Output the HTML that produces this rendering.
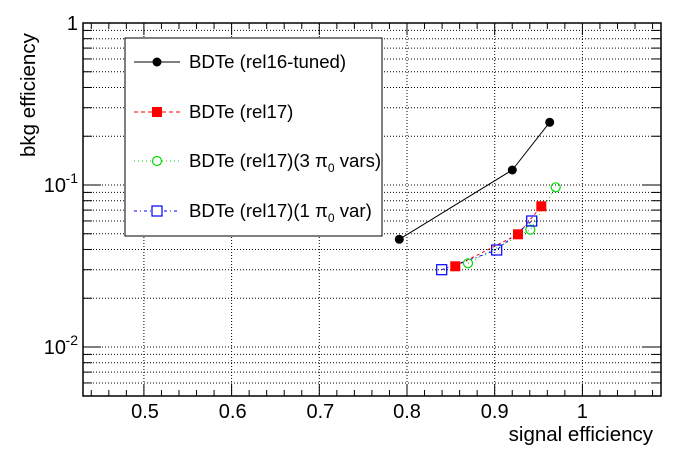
<!DOCTYPE html>
<html><head><meta charset="utf-8"><style>
html,body{margin:0;padding:0;background:#fff;}
svg{display:block;font-family:"Liberation Sans",Arial,sans-serif;}
</style></head><body>
<svg id="s" width="696" height="472" viewBox="0 0 696 472" xmlns="http://www.w3.org/2000/svg">
<g id="grid"></g>
<g id="ticks"></g>
<rect x="83" y="23" width="578" height="373" fill="none" stroke="#000" stroke-width="1.5"/>
<!-- legend -->
<rect x="125" y="38" width="257" height="198" fill="#fff" stroke="#000" stroke-width="1"/>
<line x1="134" y1="62" x2="180" y2="62" stroke="#000"/>
<circle cx="157" cy="62" r="4.5" fill="#000"/>
<text x="189" y="68" font-size="18.6">BDTe (rel16-tuned)</text>
<line x1="134" y1="112" x2="180" y2="112" stroke="#f00" stroke-dasharray="4,3"/>
<rect x="152" y="107" width="10" height="10" fill="#f00"/>
<text x="189" y="118" font-size="18.6">BDTe (rel17)</text>
<line x1="134" y1="161" x2="180" y2="161" stroke="#0c0" stroke-dasharray="1,3"/>
<circle cx="157" cy="161" r="4.5" fill="#fff" stroke="#0d0" stroke-width="1.2"/>
<text x="189" y="167" font-size="18.6">BDTe (rel17)(3 π<tspan font-size="12" dy="5">0</tspan><tspan dy="-5"> vars)</tspan></text>
<line x1="134" y1="211" x2="180" y2="211" stroke="#00f" stroke-dasharray="3,3,1,3"/>
<rect x="152" y="206" width="10" height="10" fill="#fff" stroke="#00f" stroke-width="1.2"/>
<text x="189" y="217" font-size="18.6">BDTe (rel17)(1 π<tspan font-size="12" dy="5">0</tspan><tspan dy="-5"> var)</tspan></text>
<!-- series -->
<polyline points="399.3,239.3 512.3,170 549.7,122.3" fill="none" stroke="#000"/>
<circle cx="399.3" cy="239.3" r="4.5"/><circle cx="512.3" cy="170" r="4.5"/><circle cx="549.7" cy="122.3" r="4.5"/>
<polyline points="455.3,266.3 518,234.3 541.3,206.3" fill="none" stroke="#f00" stroke-dasharray="3,3"/>
<polyline points="468,263.3 530.3,229.7 555.7,187.3" fill="none" stroke="#0c0" stroke-dasharray="1,3"/>
<polyline points="441.7,269.7 496.7,250 531.7,221" fill="none" stroke="#00f" stroke-dasharray="3,3,1,3"/>
<rect x="450.3" y="261.3" width="10" height="10" fill="#f00"/><rect x="513" y="229.3" width="10" height="10" fill="#f00"/><rect x="536.3" y="201.3" width="10" height="10" fill="#f00"/>
<g fill="none" stroke="#0d0" stroke-width="1.2"><circle cx="468" cy="263.3" r="4.5"/><circle cx="530.3" cy="229.7" r="4.5"/><circle cx="555.7" cy="187.3" r="4.5"/></g>
<g fill="none" stroke="#00f" stroke-width="1.2"><rect x="436.7" y="264.7" width="10" height="10"/><rect x="491.7" y="245" width="10" height="10"/><rect x="526.7" y="216" width="10" height="10"/></g>
<!-- labels -->
<g font-size="20" text-anchor="middle">
<text x="145" y="418">0.5</text><text x="232.7" y="418">0.6</text><text x="320.4" y="418">0.7</text><text x="407" y="418">0.8</text><text x="494.7" y="418">0.9</text><text x="582.3" y="418">1</text>
</g>
<g font-size="20" text-anchor="end">
<text x="78" y="30">1</text>
<text x="66" y="192">10</text><text x="78" y="183" font-size="14">-1</text>
<text x="66" y="354">10</text><text x="78" y="345" font-size="14">-2</text>
</g>
<text x="653" y="441" font-size="20.5" text-anchor="end">signal efficiency</text>
<text transform="translate(35,157) rotate(-90)" font-size="20.5">bkg efficiency</text>
</svg>
<script>
var ns="http://www.w3.org/2000/svg",g=document.getElementById("grid"),t=document.getElementById("ticks");
function L(p,x1,y1,x2,y2,dash){var l=document.createElementNS(ns,"line");l.setAttribute("x1",x1);l.setAttribute("y1",y1);l.setAttribute("x2",x2);l.setAttribute("y2",y2);l.setAttribute("stroke","#000");l.setAttribute("stroke-width",1);if(dash)l.setAttribute("stroke-dasharray","1,2");p.appendChild(l);}
function X(v){return 407+(v-0.8)*877;}
function Y(v){return 23-Math.log10(v)*162;}
for(var i=5;i<=10;i++){var x=X(i/10);L(g,x,24,x,395,1);L(t,x,396,x,384);L(t,x,23,x,35);}
for(var k=22;k<=108;k+=2){if(k%10==0)continue;var x=X(k/100);if(x<84||x>660)continue;L(t,x,396,x,390);L(t,x,23,x,29);}
for(var d=-3;d<=0;d++)for(var m=1;m<=9;m++){var v=m*Math.pow(10,d),y=Y(v);if(y<23.5||y>395.5)continue;
 if(y>24)L(g,84,y,660,y,1);var len=(m==1)?18:9;L(t,83,y,83+len,y);L(t,661,y,661-len,y);}
</script>
</body></html>
